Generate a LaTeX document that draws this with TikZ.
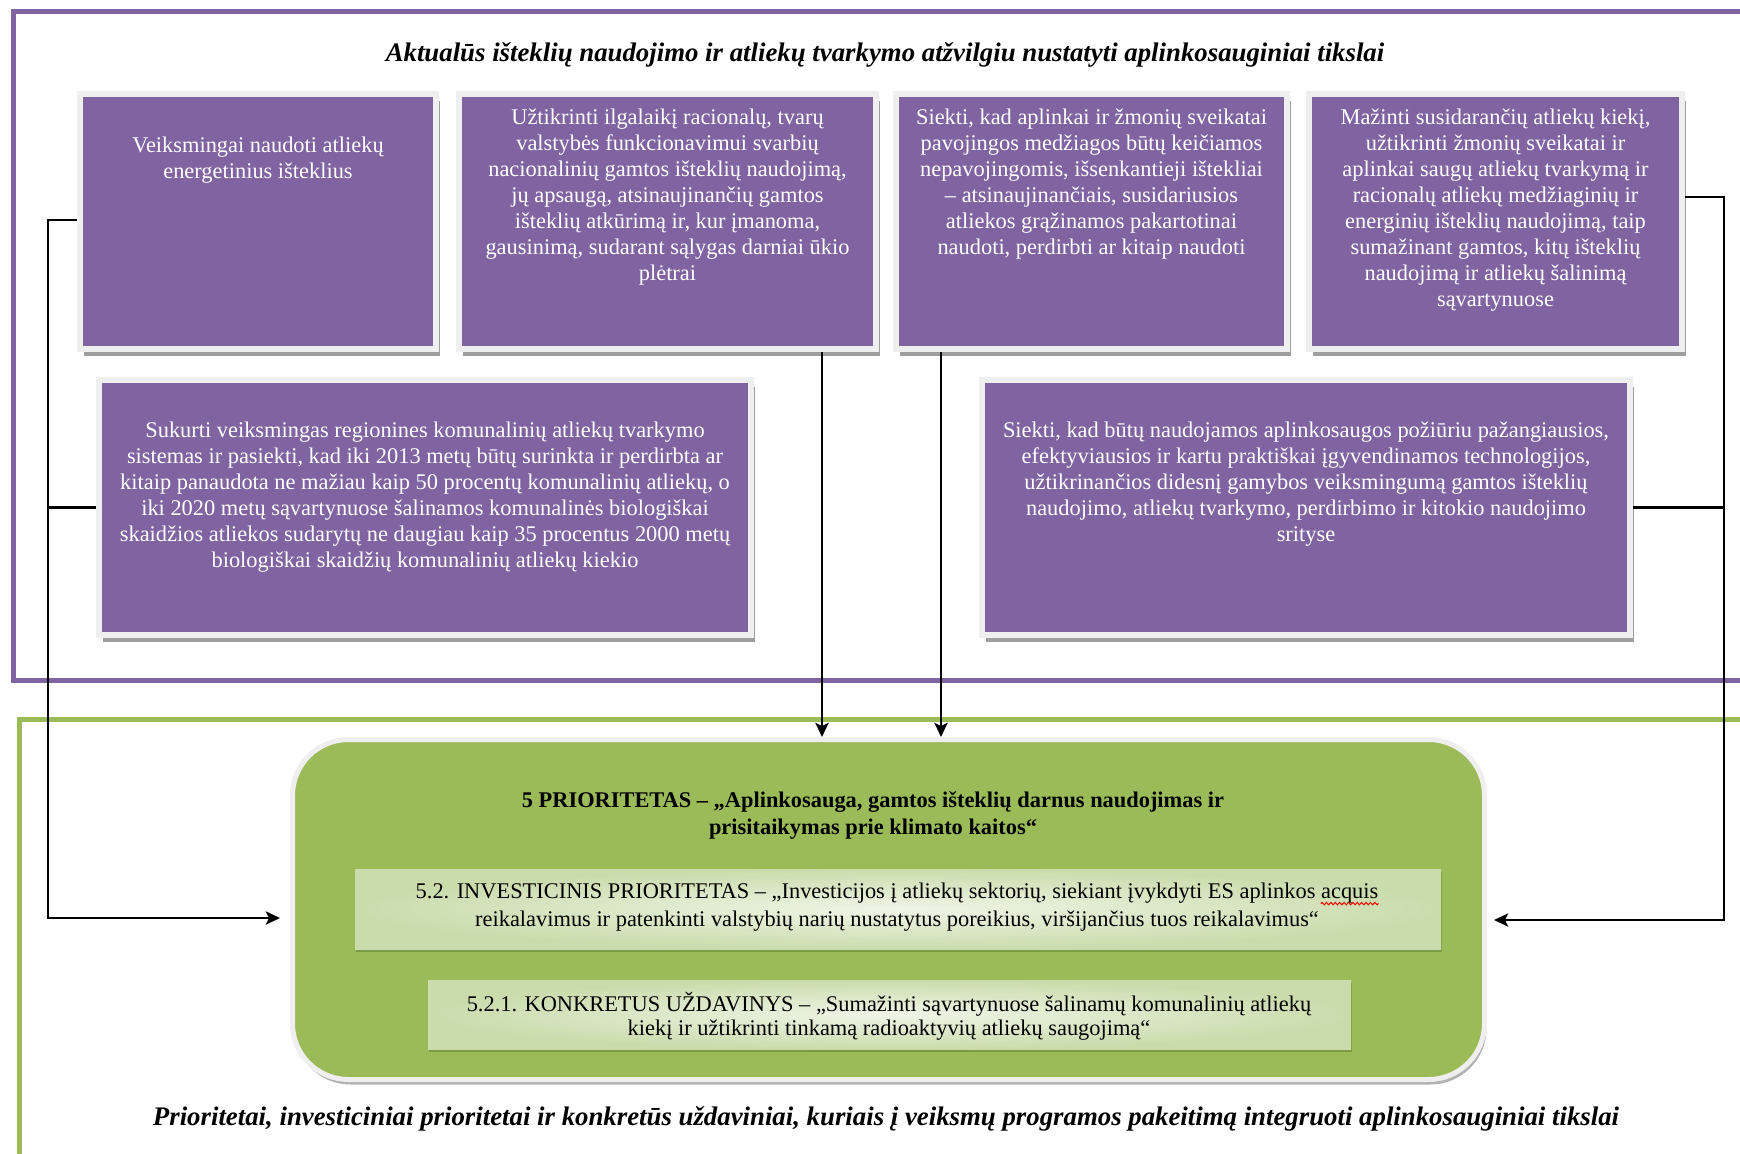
\documentclass[tikz,border=0pt]{standalone}
\usepackage{fontspec}
\setmainfont{Liberation Serif}
\usetikzlibrary{shadows,arrows.meta,decorations.pathmorphing}
\definecolor{pur}{HTML}{8064A2}
\definecolor{grn}{HTML}{9BBB59}
\definecolor{frm}{HTML}{EFEFEF}
\definecolor{gdark}{HTML}{CADCAC}
\definecolor{glight}{HTML}{EFF5E7}
\definecolor{gsh}{HTML}{7D9A45}
\tikzset{
  pbox/.style={rectangle, inner sep=0pt, fill=pur, draw=frm, line width=3pt,
    drop shadow={shadow xshift=2pt, shadow yshift=-3.5pt, fill=black!38, opacity=1}},
  ptext/.style={inner sep=0pt, anchor=north, align=center, text=white,
    font={\fontsize{11.2}{13}\selectfont}},
  gbox/.style={rectangle, inner sep=0pt, rounded corners=28pt, fill=grn, draw=frm, line width=2.5pt,
    drop shadow={shadow xshift=1pt, shadow yshift=-2.5pt, fill=black!30, opacity=1}},
  ibox/.style={rectangle, inner sep=0pt, draw=none, inner color=glight, outer color=gdark,
    drop shadow={shadow xshift=0.5pt, shadow yshift=-1.5pt, fill=gsh, opacity=1}},
  gtext/.style={inner sep=0pt, anchor=north, align=center, text=black},
  ttl/.style={inner sep=0pt, font={\fontsize{13.4}{16}\selectfont\bfseries\itshape}},
  link/.style={draw=black, line width=1.4pt},
  conn/.style={link, -{Stealth[length=7pt, width=6.5pt, inset=1.5pt]}},
  spell/.style={draw=red, line width=0.5pt, decorate, decoration={snake, amplitude=0.6pt, segment length=2.2pt}},
}
\begin{document}
\begin{tikzpicture}[x=0.5pt,y=-0.5pt]
\useasboundingbox (0,0) rectangle (1740,1153);
\fill[white] (0,0) rectangle (1740,1153);
\clip (0,0) rectangle (1740,1153);

% frames
\draw[pur, line width=2.5pt] (13,11.5) rectangle (1800,680);
\draw[grn, line width=2.5pt] (19.5,719) rectangle (1800,1220);

% titles
\node[ttl] (top) at (885,55) {Aktualūs išteklių naudojimo ir atliekų tvarkymo atžvilgiu nustatyti aplinkosauginiai tikslai};
\node[ttl] (bot) at (886,1119) {Prioritetai, investiciniai prioritetai ir konkretūs uždaviniai, kuriais į veiksmų programos pakeitimą integruoti aplinkosauginiai tikslai};

% purple boxes
\node[pbox, minimum width=178pt, minimum height=127.5pt] (b1) at (258,221.5) {};
\node[pbox, minimum width=208.5pt, minimum height=127.5pt] (b2) at (667.5,221.5) {};
\node[pbox, minimum width=195.5pt, minimum height=127.5pt] (b3) at (1091.5,221.5) {};
\node[pbox, minimum width=186.5pt, minimum height=127.5pt] (b4) at (1495.5,221.5) {};
\node[pbox, minimum width=326pt, minimum height=127.5pt] (b5) at (425,507.5) {};
\node[pbox, minimum width=324pt, minimum height=127.5pt] (b6) at (1306,507.5) {};

\node[ptext] (t1) at (258,133.5) {\strut Veiksmingai naudoti atliekų\\energetinius išteklius};
\node[ptext] (t2) at (667.5,106) {\strut Užtikrinti ilgalaikį racionalų, tvarų\\valstybės funkcionavimui svarbių\\nacionalinių gamtos išteklių naudojimą,\\jų apsaugą, atsinaujinančių gamtos\\išteklių atkūrimą ir, kur įmanoma,\\gausinimą, sudarant sąlygas darniai ūkio\\plėtrai};
\node[ptext] (t3) at (1091.5,106) {\strut Siekti, kad aplinkai ir žmonių sveikatai\\pavojingos medžiagos būtų keičiamos\\nepavojingomis, išsenkantieji ištekliai\\– atsinaujinančiais, susidariusios\\atliekos grąžinamos pakartotinai\\naudoti, perdirbti ar kitaip naudoti};
\node[ptext] (t4) at (1495.5,106) {\strut Mažinti susidarančių atliekų kiekį,\\užtikrinti žmonių sveikatai ir\\aplinkai saugų atliekų tvarkymą ir\\racionalų atliekų medžiaginių ir\\energinių išteklių naudojimą, taip\\sumažinant gamtos, kitų išteklių\\naudojimą ir atliekų šalinimą\\sąvartynuose};
\node[ptext] (t5) at (425,418.5) {\strut Sukurti veiksmingas regionines komunalinių atliekų tvarkymo\\sistemas ir pasiekti, kad iki 2013 metų būtų surinkta ir perdirbta ar\\kitaip panaudota ne mažiau kaip 50 procentų komunalinių atliekų, o\\iki 2020 metų sąvartynuose šalinamos komunalinės biologiškai\\skaidžios atliekos sudarytų ne daugiau kaip 35 procentus 2000 metų\\biologiškai skaidžių komunalinių atliekų kiekio};
\node[ptext] (t6) at (1306,418.5) {\strut Siekti, kad būtų naudojamos aplinkosaugos požiūriu pažangiausios,\\efektyviausios ir kartu praktiškai įgyvendinamos technologijos,\\užtikrinančios didesnį gamybos veiksmingumą gamtos išteklių\\naudojimo, atliekų tvarkymo, perdirbimo ir kitokio naudojimo\\srityse};

% green box
\node[gbox, minimum width=596pt, minimum height=170pt] (g) at (888.5,909.5) {};
\node[ibox, minimum width=543pt, minimum height=40pt] (i1) at (898,909) {};
\node[ibox, minimum width=461.5pt, minimum height=34.5pt] (i2) at (889.5,1014.5) {};

\node[gtext, font={\fontsize{11.2}{13.5}\selectfont\bfseries}] (gt) at (873,788) {\strut 5 PRIORITETAS – „Aplinkosauga, gamtos išteklių darnus naudojimas ir\\prisitaikymas prie klimato kaitos“};
\node[gtext, font={\fontsize{11.2}{14}\selectfont}] (it1) at (897,878) {\strut 5.2. INVESTICINIS PRIORITETAS – „Investicijos į atliekų sektorių, siekiant įvykdyti ES aplinkos acquis\\reikalavimus ir patenkinti valstybių narių nustatytus poreikius, viršijančius tuos reikalavimus“};
\node[gtext, font={\fontsize{11.2}{12}\selectfont}] (it2) at (889,992) {\strut 5.2.1. KONKRETUS UŽDAVINYS – „Sumažinti sąvartynuose šalinamų komunalinių atliekų\\kiekį ir užtikrinti tinkamą radioaktyvių atliekų saugojimą“};
\draw[spell] ([xshift=-29pt, yshift=-12.8pt]it1.north east) -- ([yshift=-12.8pt]it1.north east);

% connectors
\coordinate (lx) at (48,220);
\coordinate (tipL) at (280,918);
\coordinate (rx) at (1724,197);
\coordinate (tipR) at (1494,920);
\coordinate (d1) at (822,0);
\coordinate (d2) at (941,0);
\draw[conn] (b1.west |- lx) -- (lx) -- (lx |- tipL) -- (tipL);
\draw[link] (b5.west) -- (b5.west -| lx);
\draw[conn] (b4.east |- rx) -- (rx) -- (rx |- tipR) -- (tipR);
\draw[link] (b6.east) -- (b6.east -| rx);
\draw[conn] (b2.south -| d1) -- (g.north -| d1);
\draw[conn] (b3.south -| d2) -- (g.north -| d2);
\end{tikzpicture}
\end{document}
